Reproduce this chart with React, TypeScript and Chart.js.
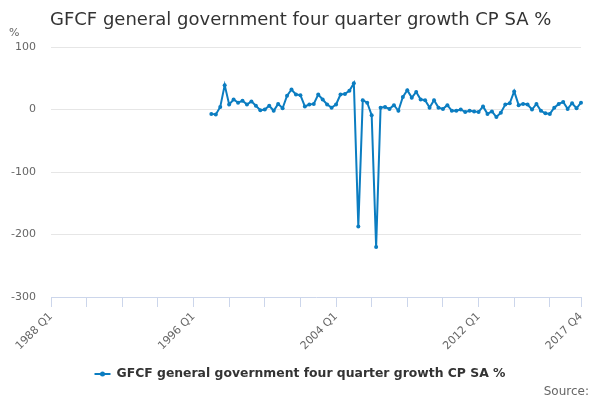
import { useEffect, useRef } from "react"
import { Chart, type ChartConfiguration, registerables } from "chart.js"

Chart.register(...registerables)

const title = "GFCF general government four quarter growth CP SA %"
const seriesName = "GFCF general government four quarter growth CP SA %"

// quarters 1988 Q1 .. 2017 Q4
const years = [
  1988, 1989, 1990, 1991, 1992, 1993, 1994, 1995, 1996, 1997, 1998, 1999, 2000, 2001, 2002,
  2003, 2004, 2005, 2006, 2007, 2008, 2009, 2010, 2011, 2012, 2013, 2014, 2015, 2016, 2017,
]
const quarters = ["Q1", "Q2", "Q3", "Q4"]
const categories = years.flatMap((y) => quarters.map((q) => `${y} ${q}`))

// series begins at 1997 Q1
const firstQuarter = "1997 Q1"
const growth = [
  -7, -8, 4, 39, 8, 16, 11, 14, 8, 13, 6, -1, 0, 6, -2, 9,
  2, 22, 32, 24, 23, 5, 8, 9, 24, 16, 8, 3, 8, 24, 25, 30,
  42, -187, 15, 11, -9, -220, 3, 4, 1, 7, -2, 20, 31, 19, 28, 16,
  15, 3, 15, 3, 1, 7, -2, -2, 0, -4, -2, -3, -4, 5, -7, -3,
  -12, -5, 8, 10, 29, 7, 9, 8, 0, 9, -2, -6, -7, 3, 9, 12,
  1, 10, 2, 11,
]

const yTicks = [-300, -200, -100, 0, 100]
const labelEvery = 32
const tickEvery = 8

const lineColor = "#0b7dc1"
const font = "'DejaVu Sans', sans-serif"

export default function App() {
  const chartRef = useRef<HTMLCanvasElement>(null)
  const chartInstance = useRef<Chart | null>(null)

  useEffect(() => {
    document.body.style.margin = "0"
    if (!chartRef.current) return
    if (chartInstance.current) chartInstance.current.destroy()
    const ctx = chartRef.current.getContext("2d")
    if (!ctx) return

    const start = categories.indexOf(firstQuarter)
    const last = categories.length - 1

    const config: ChartConfiguration = {
      type: "line",
      data: {
        labels: categories,
        datasets: [
          {
            label: seriesName,
            data: growth.map((v, i) => ({ x: categories[start + i], y: v })) as any,
            borderColor: lineColor,
            backgroundColor: lineColor,
            borderWidth: 2,
            pointRadius: 2,
            pointBorderWidth: 0,
            tension: 0,
          },
        ],
      },
      options: {
        responsive: false,
        animation: false,
        layout: { padding: { top: 47, right: 19, bottom: 0, left: 0 } },
        plugins: {
          legend: { display: false },
          tooltip: { enabled: false },
          title: { display: false },
        },
        scales: {
          x: {
            type: "category",
            offset: false,
            afterFit: (scale) => {
              scale.height = 103
            },
            grid: {
              drawOnChartArea: false,
              tickLength: 10,
              tickColor: (c) => (c.index % tickEvery === 0 || c.index === last ? "#ccd6eb" : "transparent"),
            },
            border: { color: "#ccd6eb", width: 1 },
            ticks: {
              autoSkip: false,
              minRotation: 45,
              maxRotation: 45,
              padding: 3,
              color: "#666666",
              font: { family: font, size: 11 },
              callback: (_v, i) => (i % labelEvery === 0 || i === last ? categories[i] : ""),
            },
          },
          y: {
            min: yTicks[0],
            max: yTicks[yTicks.length - 1],
            afterFit: (scale) => {
              scale.width = 51
            },
            afterBuildTicks: (scale) => {
              scale.ticks = yTicks.map((v) => ({ value: v }))
            },
            grid: {
              drawTicks: false,
              color: (c) => (c.tick && c.tick.value === yTicks[0] ? "transparent" : "#e6e6e6"),
            },
            border: { display: false },
            ticks: {
              padding: 15,
              color: "#666666",
              font: { family: font, size: 11 },
              callback: (v) => String(v),
            },
          },
        },
      },
      plugins: [
        {
          id: "decor",
          afterDraw: (chart) => {
            const c = chart.ctx
            c.save()
            c.textBaseline = "alphabetic"
            c.fillStyle = "#333333"
            c.font = `18px ${font}`
            c.textAlign = "left"
            c.fillText(title, 50, 25)

            c.fillStyle = "#666666"
            c.font = `11px ${font}`
            c.fillText("%", 9, 36)

            // legend
            const ds = chart.data.datasets[0]
            c.font = `bold 12.4px ${font}`
            const tw = c.measureText(String(ds.label)).width
            const total = 16 + 6 + tw
            const x0 = 300 - total / 2
            const ly = 374
            c.strokeStyle = lineColor
            c.lineWidth = 2
            c.beginPath()
            c.moveTo(x0, ly)
            c.lineTo(x0 + 16, ly)
            c.stroke()
            c.fillStyle = lineColor
            c.beginPath()
            c.arc(x0 + 8, ly, 2.5, 0, Math.PI * 2)
            c.fill()
            c.fillStyle = "#333333"
            c.textBaseline = "middle"
            c.fillText(String(ds.label), x0 + 22, ly)

            c.fillStyle = "#666666"
            c.font = `12px ${font}`
            c.textAlign = "right"
            c.textBaseline = "alphabetic"
            c.fillText("Source:", 589, 395)
            c.restore()
          },
        },
      ],
    }

    chartInstance.current = new Chart(ctx, config)
    return () => {
      if (chartInstance.current) {
        chartInstance.current.destroy()
        chartInstance.current = null
      }
    }
  }, [])

  return (
    <div style={{ width: 600, height: 400 }}>
      <canvas ref={chartRef} width={600} height={400} />
    </div>
  )
}
